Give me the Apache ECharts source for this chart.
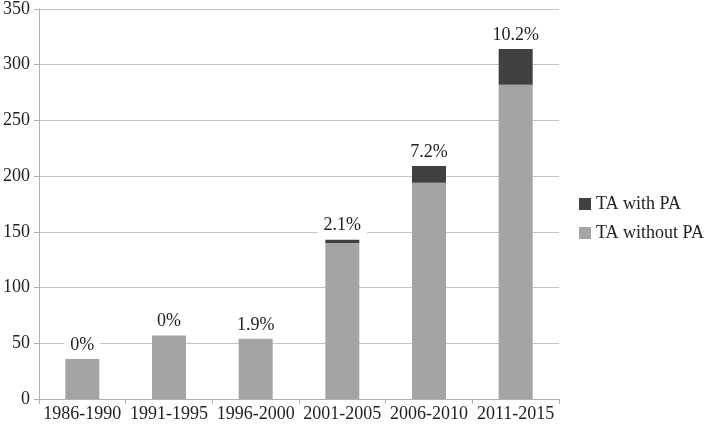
<!DOCTYPE html>
<html>
<head>
<meta charset="utf-8">
<script src="https://cdn.jsdelivr.net/npm/echarts@6/dist/echarts.min.js"></script>
<style>
html,body{margin:0;padding:0;background:#fff;}
#chart{width:709px;height:427px;}
</style>
</head>
<body>
<div id="chart"></div>
<script>
var categories = ['1986-1990','1991-1995','1996-2000','2001-2005','2006-2010','2011-2015'];
var withoutPA = [36, 57, 54, 140, 194, 282];
var withPA = [0, 0, 0, 3, 15, 32];
var pctLabels = ['0%','0%','1.9%','2.1%','7.2%','10.2%'];
var yTicks = [0, 50, 100, 150, 200, 250, 300, 350];

var font = '"Liberation Serif", "DejaVu Serif", serif';
var chart = echarts.init(document.getElementById('chart'));
chart.setOption({
  animation: false,
  textStyle: { fontFamily: font },
  grid: { left: 37, right: 150, top: 7, bottom: 28, containLabel: false },
  legend: {
    orient: 'vertical',
    left: 574,
    top: 190,
    itemWidth: 12,
    itemHeight: 12,
    itemGap: 11,
    icon: 'rect',
    textStyle: { fontFamily: font, fontSize: 18, color: '#222' },
    data: ['TA with PA', 'TA without PA']
  },
  xAxis: {
    type: 'category',
    data: categories,
    axisLine: { lineStyle: { color: '#b0b0b0', width: 1 } },
    axisTick: { show: true, length: 5, lineStyle: { color: '#b0b0b0' } },
    axisLabel: { interval: 0, fontFamily: font, fontSize: 18, color: '#222', margin: 6 }
  },
  yAxis: {
    type: 'value',
    min: yTicks[0],
    max: yTicks[yTicks.length - 1],
    interval: 50,
    axisLine: { show: true, lineStyle: { color: '#b0b0b0', width: 1 } },
    axisTick: { show: true, length: 5, lineStyle: { color: '#b0b0b0' } },
    axisLabel: { fontFamily: font, fontSize: 18, color: '#222', margin: 9 },
    splitLine: { lineStyle: { color: '#c4c4c4', width: 1 } }
  },
  series: [
    {
      name: 'TA without PA',
      type: 'bar',
      stack: 'total',
      barWidth: 34,
      itemStyle: { color: '#a4a4a4' },
      data: withoutPA
    },
    {
      name: 'TA with PA',
      type: 'bar',
      stack: 'total',
      barWidth: 34,
      itemStyle: { color: '#404040' },
      label: {
        show: true,
        position: 'top',
        distance: 5,
        fontFamily: font,
        fontSize: 18,
        color: '#222',
        backgroundColor: '#fff',
        padding: [0, 6, 0, 6],
        formatter: function (p) { return pctLabels[p.dataIndex]; }
      },
      data: withPA
    }
  ]
});
</script>
</body>
</html>
